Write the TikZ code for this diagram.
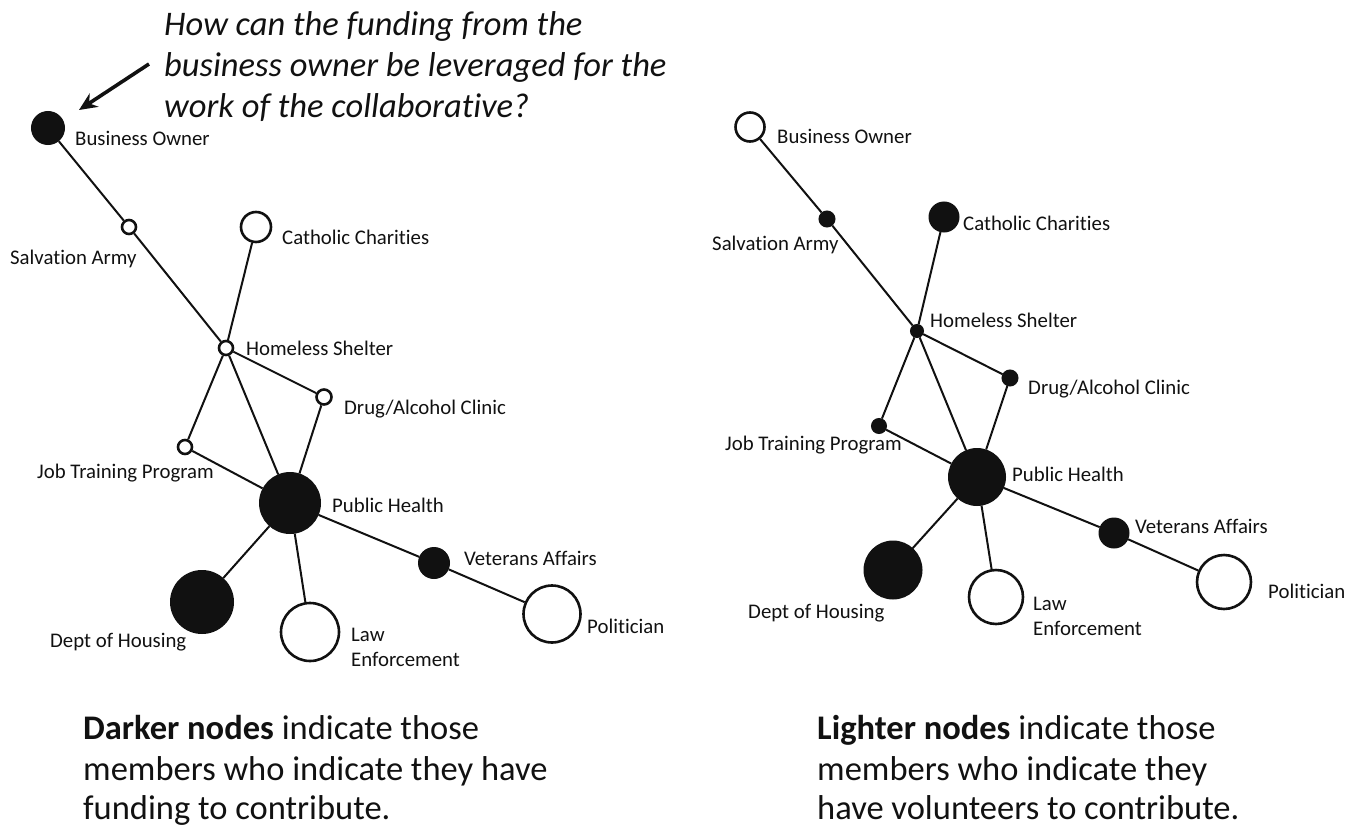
\documentclass[tikz,border=0pt]{standalone}
\usepackage{fontspec}
\setmainfont{Carlito}[Ligatures=NoCommon]
\usetikzlibrary{arrows.meta}
\definecolor{ink}{HTML}{111111}
\tikzset{
  dark/.style={circle, draw=ink, fill=ink, line width=2pt, inner sep=0pt},
  light/.style={circle, draw=ink, fill=white, line width=2.6pt, inner sep=0pt},
  lbl/.style={font=\fontsize{20.8}{24.5}\selectfont, anchor=base west, inner sep=0pt, text=ink},
  lbl2/.style={font=\fontsize{20.8}{24.5}\selectfont, anchor=north west, inner sep=0pt, align=left, text=ink},
  link/.style={line width=2pt, draw=ink},
  qtext/.style={font=\fontsize{34.5}{41}\selectfont\itshape, anchor=base west, inner sep=0pt, text=ink},
  ctext/.style={font=\fontsize{34.5}{42}\selectfont, anchor=base west, inner sep=0pt, text=ink},
  callout/.style={line width=3.6pt, draw=ink, -{Stealth[length=18pt,width=16pt]}},
}
\begin{document}
\begin{tikzpicture}[x=1pt,y=-1pt]
\useasboundingbox (0,0) rectangle (1346,827);

% ---------- question ----------
\node[qtext] (q1) at (164,35) {How can the funding from the};
\node[qtext] (q2) at (164,76) {business owner be leveraged for the};
\node[qtext] (q3) at (164,117) {work of the collaborative?};
\coordinate (atail) at (149,64);
\coordinate (ahead) at (79,110);
\draw[callout] (atail) -- (ahead);

% ---------- left network ----------
\node[dark,  minimum size=32pt] (lBO)  at (48,128) {};
\node[light, minimum size=14pt] (lSA)  at (129,227) {};
\node[light, minimum size=30pt] (lCC)  at (256,227) {};
\node[light, minimum size=14pt] (lHS)  at (226,348) {};
\node[light, minimum size=15pt] (lDAC) at (324,397) {};
\node[light, minimum size=14pt] (lJTP) at (185,447) {};
\node[dark,  minimum size=60pt] (lPH)  at (290,503) {};
\node[dark,  minimum size=30pt] (lVA)  at (434,563) {};
\node[light, minimum size=57pt] (lPol) at (552,614) {};
\node[dark,  minimum size=62pt] (lDoH) at (202,602) {};
\node[light, minimum size=58pt] (lLE)  at (310,632) {};

\draw[link] (lBO) -- (lSA);
\draw[link] (lSA) -- (lHS);
\draw[link] (lCC) -- (lHS);
\draw[link] (lHS) -- (lDAC);
\draw[link] (lHS) -- (lJTP);
\draw[link] (lHS) -- (lPH);
\draw[link] (lDAC) -- (lPH);
\draw[link] (lJTP) -- (lPH);
\draw[link] (lPH) -- (lVA);
\draw[link] (lVA) -- (lPol);
\draw[link] (lPH) -- (lDoH);
\draw[link] (lPH) -- (lLE);

\node[lbl] (lBOt)  at (75,145)  {Business Owner};
\node[lbl] (lSAt)  at (10,264)  {Salvation Army};
\node[lbl] (lCCt)  at (282,244) {Catholic Charities};
\node[lbl] (lHSt)  at (246,355) {Homeless Shelter};
\node[lbl] (lDACt) at (344,414) {Drug/Alcohol Clinic};
\node[lbl] (lJTPt) at (37,478)  {Job Training Program};
\node[lbl] (lPHt)  at (332,512) {Public Health};
\node[lbl] (lVAt)  at (464,565) {Veterans Affairs};
\node[lbl] (lPolt) at (587,633) {Politician};
\node[lbl] (lDoHt) at (50,647)  {Dept of Housing};
\node[lbl2] (lLEt) at (351,628) {Law\\Enforcement};

% ---------- right network ----------
\node[light, minimum size=29pt] (rBO)  at (750,127) {};
\node[dark,  minimum size=15pt] (rSA)  at (827,219) {};
\node[dark,  minimum size=29pt] (rCC)  at (944,217) {};
\node[dark,  minimum size=12pt] (rHS)  at (917,331) {};
\node[dark,  minimum size=15pt] (rDAC) at (1010,378) {};
\node[dark,  minimum size=14pt] (rJTP) at (879,426) {};
\node[dark,  minimum size=56pt] (rPH)  at (977,477) {};
\node[dark,  minimum size=29pt] (rVA)  at (1114,533) {};
\node[light, minimum size=54pt] (rPol) at (1224,582) {};
\node[dark,  minimum size=57pt] (rDoH) at (893,570) {};
\node[light, minimum size=54pt] (rLE)  at (996,597) {};

\draw[link] (rBO) -- (rSA);
\draw[link] (rSA) -- (rHS);
\draw[link] (rCC) -- (rHS);
\draw[link] (rHS) -- (rDAC);
\draw[link] (rHS) -- (rJTP);
\draw[link] (rHS) -- (rPH);
\draw[link] (rDAC) -- (rPH);
\draw[link] (rJTP) -- (rPH);
\draw[link] (rPH) -- (rVA);
\draw[link] (rVA) -- (rPol);
\draw[link] (rPH) -- (rDoH);
\draw[link] (rPH) -- (rLE);

\node[lbl] (rBOt)  at (777,143)  {Business Owner};
\node[lbl] (rSAt)  at (712,250)  {Salvation Army};
\node[lbl] (rCCt)  at (963,230)  {Catholic Charities};
\node[lbl] (rHSt)  at (930,327)  {Homeless Shelter};
\node[lbl] (rDACt) at (1028,394) {Drug/Alcohol Clinic};
\node[lbl] (rJTPt) at (725,450)  {Job Training Program};
\node[lbl] (rPHt)  at (1012,481) {Public Health};
\node[lbl] (rVAt)  at (1135,533) {Veterans Affairs};
\node[lbl] (rPolt) at (1268,598) {Politician};
\node[lbl] (rDoHt) at (748,618)  {Dept of Housing};
\node[lbl2] (rLEt) at (1033,597) {Law\\Enforcement};

% ---------- captions ----------
\node[ctext] (c1a) at (83,739) {\textbf{Darker nodes} indicate those};
\node[ctext] (c1b) at (83,780) {members who indicate they have};
\node[ctext] (c1c) at (83,819) {funding to contribute.};
\node[ctext] (c2a) at (817,739) {\textbf{Lighter nodes} indicate those};
\node[ctext] (c2b) at (817,780) {members who indicate they};
\node[ctext] (c2c) at (817,819) {have volunteers to contribute.};
\end{tikzpicture}
\end{document}
